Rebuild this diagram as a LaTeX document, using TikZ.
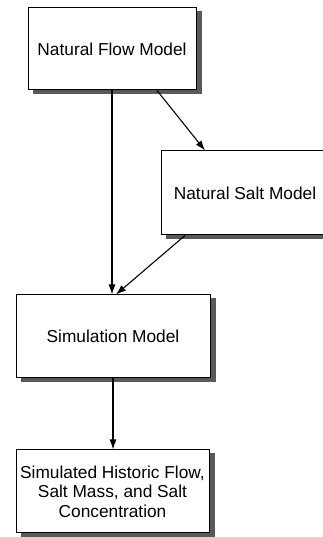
\documentclass[tikz,border=0pt]{standalone}
\usepackage{fontspec}
\setmainfont{Liberation Sans}
\usetikzlibrary{arrows.meta}

\begin{document}
\begin{tikzpicture}[x=1pt, y=1pt, >={Latex[length=10pt,width=7pt]},
    modello/.style={draw, line width=1pt, fill=white, inner sep=0pt, align=center,
        font=\fontsize{17.3}{19.5}\selectfont},
    ombra/.style={fill=black!65, draw=none, inner sep=0pt},
    freccia/.style={->, line width=1.1pt}]
    \useasboundingbox (0,0) rectangle (322,537);

    % Ombre
    \node[ombra, minimum width=169pt, minimum height=83pt] (flow-o) at (117,484) {};
    \node[ombra, minimum width=169pt, minimum height=85pt] (salt-o) at (250,340) {};
    \node[ombra, minimum width=195pt, minimum height=84pt] (sim-o) at (118,196.5) {};
    \node[ombra, minimum width=194pt, minimum height=84pt] (esito-o) at (117.5,41.5) {};

    % Modelli
    \node[modello, minimum width=168pt, minimum height=82pt] (flow) at (112,488) {Natural Flow Model};
    \node[modello, minimum width=168pt, minimum height=84pt] (salt) at (245,344) {Natural Salt Model};
    \node[modello, minimum width=194pt, minimum height=83pt] (sim) at (113,200.5) {Simulation Model};
    \node[modello, minimum width=193pt, minimum height=83pt] (esito) at (112.5,45.5)
        {Simulated Historic Flow,\\Salt Mass, and Salt\\Concentration};

    % Frecce
    \draw[freccia] (flow.south) -- (flow.south |- sim.north);
    \draw[freccia] ([xshift=45pt]flow.south) -- ([xshift=-40pt]salt.north);
    \draw[freccia] ([xshift=-60pt]salt.south) -- ([xshift=3pt]sim.north);
    \draw[freccia] (sim.south) -- (sim.south |- esito.north);
\end{tikzpicture}
\end{document}
